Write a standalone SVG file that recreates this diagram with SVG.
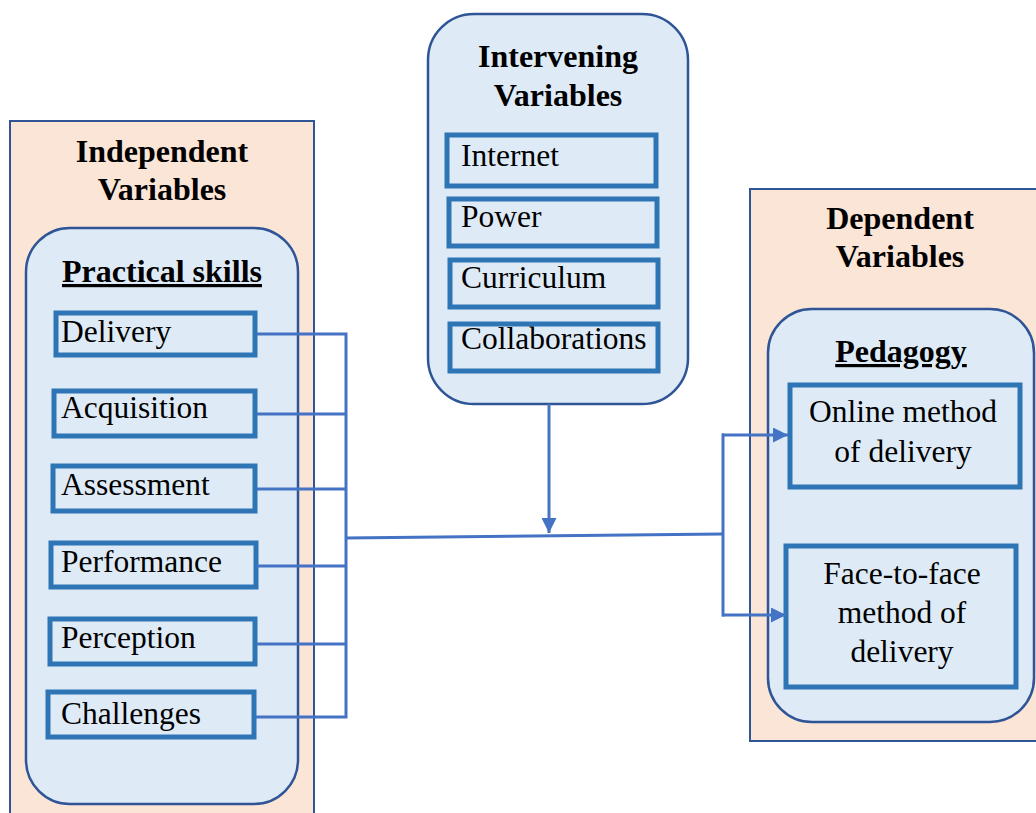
<svg xmlns="http://www.w3.org/2000/svg" width="1036" height="813" viewBox="0 0 1036 813">
<style>
.outer{fill:#FBE5D6;stroke:#2F5597;stroke-width:2}
.inner{fill:#DEEBF7;stroke:#2F5597;stroke-width:2.5}
.item{fill:#DEEBF7;stroke:#2E75B6;stroke-width:5}
.t{font-family:"Liberation Serif","Times New Roman",serif;font-size:31.5px;fill:#000}
.b{font-family:"Liberation Serif","Times New Roman",serif;font-size:32px;font-weight:bold;fill:#000}
.c{text-anchor:middle}
.u{text-decoration:underline}
.conn{fill:none;stroke:#4472C4;stroke-width:3}
</style>
<defs>
<marker id="ah" markerWidth="15" markerHeight="15" refX="10" refY="5" orient="auto" markerUnits="userSpaceOnUse" viewBox="0 0 10 10">
<path d="M0,0 L10,5 L0,10 Z" fill="#4472C4"/>
</marker>
</defs>
<rect width="1036" height="813" fill="#fff"/>

<g id="independent">
<rect class="outer" x="10" y="121" width="304" height="710"/>
<text class="b c" x="162" y="162">Independent</text>
<text class="b c" x="162" y="200">Variables</text>
<rect class="inner" x="26" y="228" width="272" height="576" rx="44"/>
<text class="b c u" x="162" y="282">Practical skills</text>
</g>
<g id="delivery"><rect class="item" x="56" y="313" width="199" height="42"/><text class="t" x="61" y="342">Delivery</text></g>
<g id="acquisition"><rect class="item" x="54" y="391" width="201" height="45"/><text class="t" x="61" y="418">Acquisition</text></g>
<g id="assessment"><rect class="item" x="53" y="466" width="202" height="45"/><text class="t" x="61" y="495">Assessment</text></g>
<g id="performance"><rect class="item" x="51" y="543" width="205" height="44"/><text class="t" x="61" y="572">Performance</text></g>
<g id="perception"><rect class="item" x="50" y="619" width="205" height="45"/><text class="t" x="61" y="648">Perception</text></g>
<g id="challenges"><rect class="item" x="48" y="692" width="206" height="45"/><text class="t" x="61" y="724">Challenges</text></g>

<g id="intervening">
<rect class="inner" x="428" y="14" width="260" height="390" rx="46"/>
<text class="b c" x="558" y="67">Intervening</text>
<text class="b c" x="558" y="106">Variables</text>
</g>
<g id="internet"><rect class="item" x="447" y="135" width="209" height="51"/><text class="t" x="461" y="166">Internet</text></g>
<g id="power"><rect class="item" x="449" y="199" width="208" height="47"/><text class="t" x="461" y="227">Power</text></g>
<g id="curriculum"><rect class="item" x="450" y="260" width="208" height="47"/><text class="t" x="461" y="288">Curriculum</text></g>
<g id="collaborations"><rect class="item" x="450" y="324" width="208" height="47"/><text class="t" x="461" y="349">Collaborations</text></g>

<g id="dependent">
<rect class="outer" x="750" y="189" width="300" height="552"/>
<text class="b c" x="900" y="229">Dependent</text>
<text class="b c" x="900" y="267">Variables</text>
<rect class="inner" x="768" y="309" width="266" height="413" rx="44"/>
<text class="b c u" x="901" y="362">Pedagogy</text>
</g>
<g id="online"><rect class="item" x="790" y="385" width="230" height="102"/><text class="t c" x="903" y="422">Online method</text><text class="t c" x="903" y="462">of delivery</text></g>
<g id="facetoface"><rect class="item" x="786" y="546" width="230" height="141"/><text class="t c" x="902" y="584">Face-to-face</text><text class="t c" x="902" y="623">method of</text><text class="t c" x="902" y="662">delivery</text></g>

<g id="connectors">
<path class="conn" d="M257,334 H346 M257,414 H346 M257,489 H346 M257,566 H346 M257,644 H346 M256,717 H346 M346,332.5 V718.5"/>
<path class="conn" d="M346,538 L723,534"/>
<path class="conn" d="M549,404 V533" marker-end="url(#ah)"/>
<path class="conn" d="M723,433.5 V616.5"/>
<path class="conn" d="M722,435 H788" marker-end="url(#ah)"/>
<path class="conn" d="M722,615 H786" marker-end="url(#ah)"/>
</g>
</svg>
